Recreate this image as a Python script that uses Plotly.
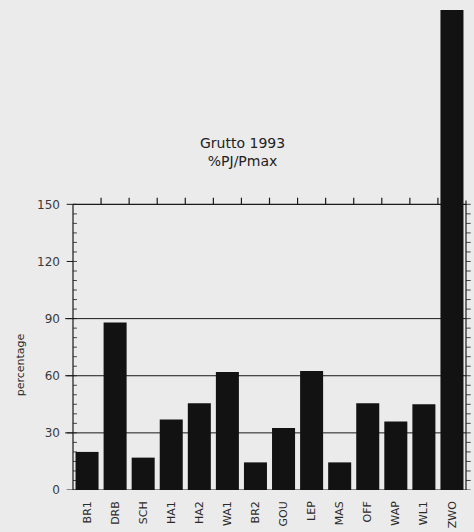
import plotly.graph_objects as go

categories = ["BR1", "DRB", "SCH", "HA1", "HA2", "WA1", "BR2", "GOU", "LEP", "MAS", "OFF", "WAP", "WL1", "ZWO"]
values = [20, 88, 17, 37, 45.5, 62, 14.5, 32.5, 62.5, 14.5, 45.5, 36, 45, 252]
y_ticks = [0, 30, 60, 90, 120, 150]
grid_vals = [30, 60, 90]
minor_vals = list(range(0, 151, 5))

W, H = 474, 532
ML, MR, MT, MB = 73, 8, 4, 38
YMAX = 255.2
BG = "#ebebeb"
INK = "#1a1a1a"
FONT = "DejaVu Sans, Liberation Sans, Arial, sans-serif"

fig = go.Figure()
fig.add_bar(x=categories, y=values, marker=dict(color="#121212", line=dict(width=0)), width=0.82)

shapes = []
n = len(categories)
# frame lines
shapes.append(dict(type="line", xref="paper", yref="y", x0=0, x1=0, y0=-4, y1=150, line=dict(color=INK, width=1.2), layer="below"))
shapes.append(dict(type="line", xref="paper", yref="y", x0=1, x1=1, y0=0, y1=152, line=dict(color=INK, width=1.2), layer="below"))
shapes.append(dict(type="line", xref="paper", yref="y", x0=0, x1=1, y0=0, y1=0, line=dict(color=INK, width=1.2), layer="below"))
shapes.append(dict(type="line", xref="paper", yref="y", x0=0, x1=1, y0=150, y1=150, line=dict(color=INK, width=1.2), layer="below"))
# grid lines
for g in grid_vals:
    shapes.append(dict(type="line", xref="paper", yref="y", x0=-0.02, x1=1, y0=g, y1=g, line=dict(color=INK, width=1), layer="below"))
# top ticks between categories
for i in range(n - 1):
    shapes.append(dict(type="line", xref="x", yref="y", x0=i + 0.5, x1=i + 0.5, y0=150, y1=153.5, line=dict(color=INK, width=1.2), layer="below"))
# bottom ticks
for i in range(n - 1):
    shapes.append(dict(type="line", xref="x", yref="y", x0=i + 0.5, x1=i + 0.5, y0=0, y1=-4.5, line=dict(color=INK, width=1.2), layer="below"))
# left major ticks
for t in y_ticks:
    shapes.append(dict(type="line", xref="paper", yref="y", x0=-0.016, x1=0, y0=t, y1=t, line=dict(color=INK, width=1), layer="below"))
# left & right minor ticks
for m in minor_vals:
    shapes.append(dict(type="line", xref="paper", yref="y", x0=0, x1=0.01, y0=m, y1=m, line=dict(color=INK, width=0.8), layer="below"))
    shapes.append(dict(type="line", xref="paper", yref="y", x0=1, x1=1.012, y0=m, y1=m, line=dict(color=INK, width=0.8), layer="below"))

fig.update_layout(
    width=W, height=H,
    margin=dict(l=ML, r=MR, t=MT, b=MB),
    paper_bgcolor=BG, plot_bgcolor=BG,
    showlegend=False,
    bargap=0.18,
    font=dict(family=FONT, color="#2a2a2a"),
    shapes=shapes,
    xaxis=dict(range=[-0.5, n - 0.5], showgrid=False, showline=False, zeroline=False,
               ticks="", tickangle=-90, tickfont=dict(size=11, color="#2a2a2a"), ticklabelstandoff=8),
    yaxis=dict(range=[0, YMAX], tickvals=y_ticks, showgrid=False, showline=False, zeroline=False,
               ticks="", tickfont=dict(size=12, color="#3a3a3a"), ticklabelstandoff=12),
    annotations=[
        dict(text="Grutto 1993<br>%PJ/Pmax", xref="paper", yref="paper",
             x=(242 - ML) / (W - ML - MR), y=(H - MB - 153) / (H - MT - MB),
             xanchor="center", yanchor="middle",
             showarrow=False, font=dict(size=14, color="#222"), align="center"),
        dict(text="percentage", xref="paper", yref="y", x=(20 - ML) / (W - ML - MR), y=66,
             xanchor="center", yanchor="middle",
             textangle=-90, showarrow=False, font=dict(size=11, color="#2a2a2a")),
    ],
)

fig.write_html("out.html")
